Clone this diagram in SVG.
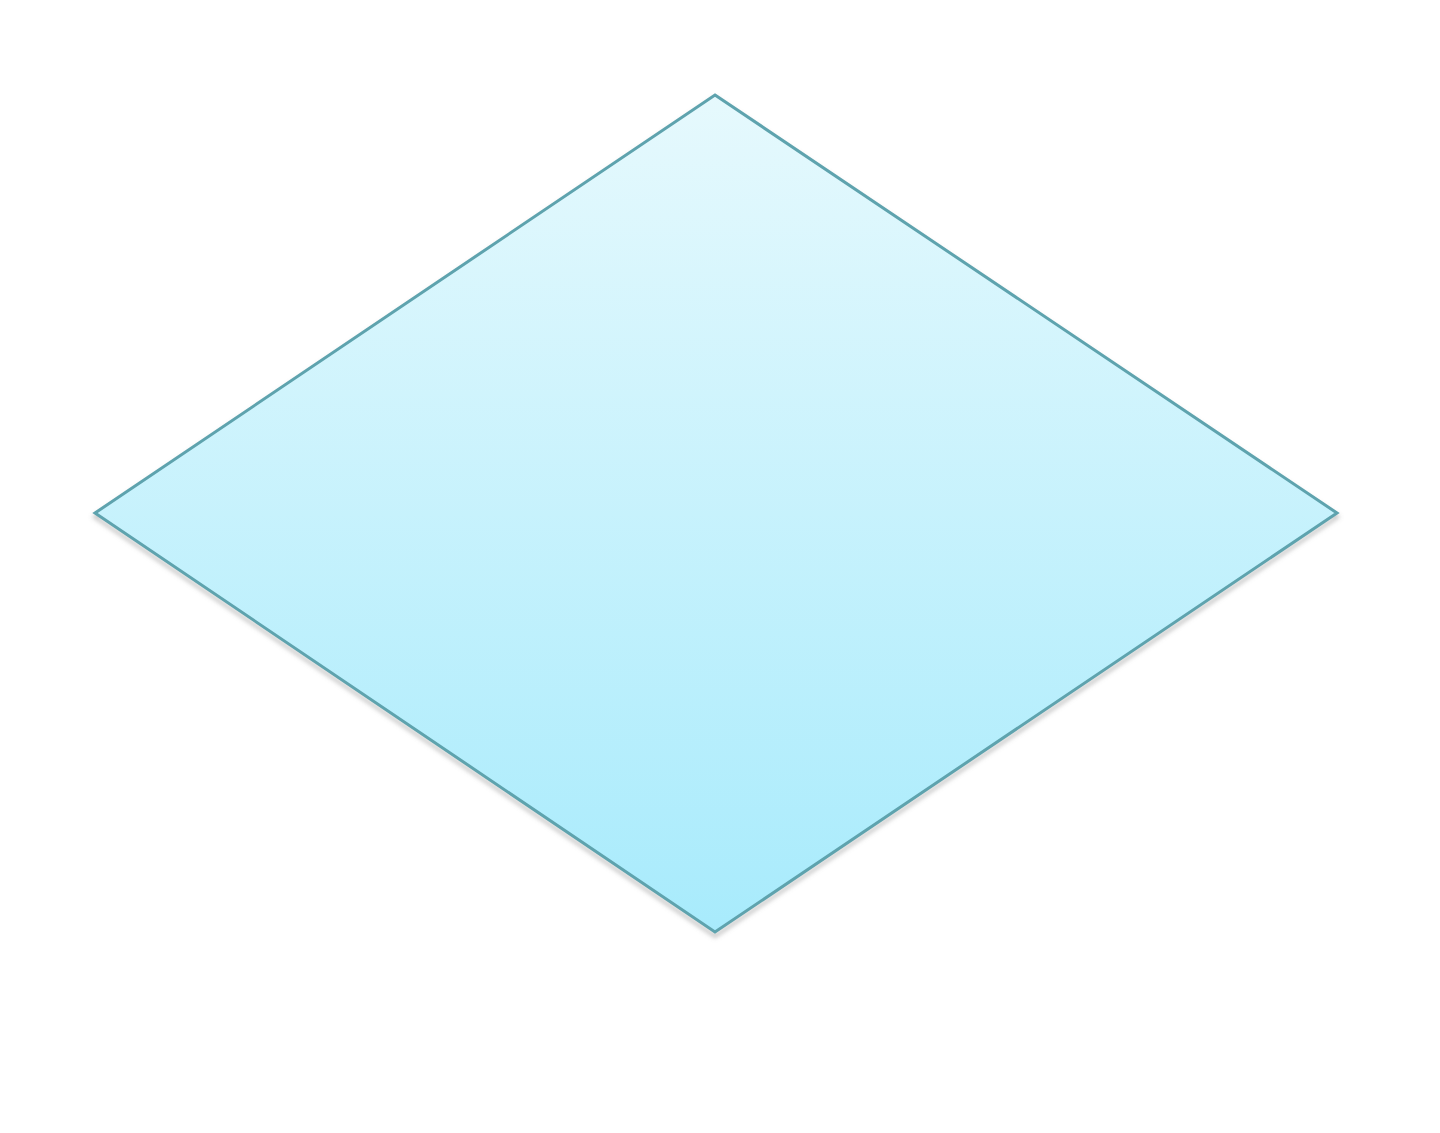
<svg xmlns="http://www.w3.org/2000/svg" width="1440" height="1133" viewBox="0 0 1440 1133">
<defs>
<linearGradient id="fillGrad" x1="0" y1="0" x2="0" y2="1">
<stop offset="0" stop-color="#E6F9FD"/>
<stop offset="1" stop-color="#A8EBFC"/>
</linearGradient>
<filter id="soft" x="-10%" y="-10%" width="120%" height="120%">
<feGaussianBlur stdDeviation="2"/>
</filter>
<style>
.shape{fill:url(#fillGrad);stroke:#5EA3AE;stroke-width:3;stroke-linejoin:miter}
.shadow{fill:none;stroke:#8a8a8a;stroke-opacity:0.45;stroke-width:4}
</style>
</defs>
<rect width="1440" height="1133" fill="#FFFFFF"/>
<g id="decision">
<polygon class="shadow" points="715,99 1337,517 715,936 95,517" filter="url(#soft)"/>
<polygon class="shape" points="715,95 1337,513 715,932 95,513"/>
</g>
<g id="connectors"></g>
</svg>
